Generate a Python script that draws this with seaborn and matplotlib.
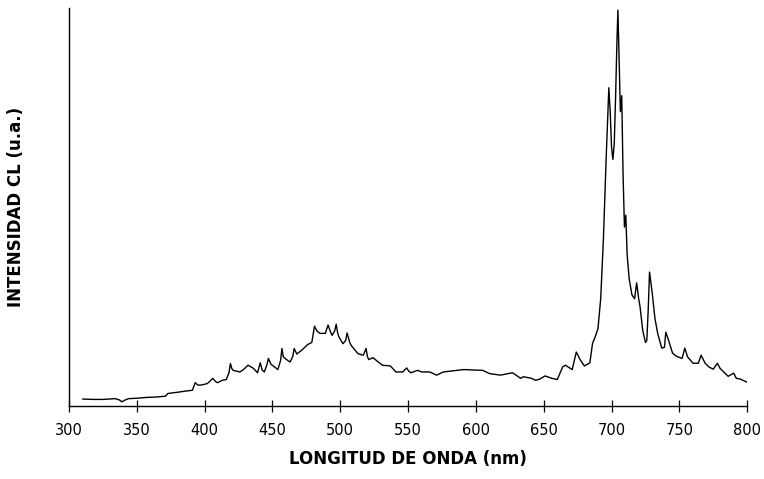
import matplotlib
matplotlib.use("Agg")
import matplotlib.pyplot as plt
import seaborn as sns
import pandas as pd

# Cathodoluminescence spectrum: wavelength (nm) and intensity (arbitrary units)
wavelength_nm = [
    310, 318, 325, 330, 334, 337, 339, 341, 344, 350, 357, 364, 371, 373, 380,
    386, 391, 393, 395, 397, 400, 402, 404, 406, 408, 409.5, 413, 416, 418, 419,
    420, 421, 426, 429, 432, 434, 436, 439, 441, 442.5, 444, 446, 447, 449, 454,
    456, 457, 458, 460, 463, 465, 466, 468, 472, 476, 479, 481, 483, 485, 489,
    491, 493, 494, 496, 497, 498, 499, 502, 504, 505, 507, 508, 513, 517, 519,
    520, 521, 524, 531, 537, 541, 546, 549, 550.5, 552, 557, 560, 566, 571, 576,
    591, 605, 610, 618, 627, 633, 635, 641, 644, 647, 651, 656, 660, 664, 666,
    671, 674, 677, 680, 684, 686, 688, 690, 692, 694, 696, 698, 699, 700, 701,
    702, 703, 704, 704.7, 705.5, 706.5, 707.5, 708.5, 709.5, 710.5, 711.5, 713,
    715, 717, 718.5, 720, 721, 723, 725, 726, 727, 728, 730, 732, 734, 737, 739,
    740, 742, 745, 748, 752, 754, 756, 760, 764, 766, 769, 772, 775, 778, 780,
    783, 786, 790, 792, 795, 800,
]
intensity_au = [
    1.8, 1.7, 1.7, 1.8, 1.9, 1.6, 1.1, 1.5, 1.9, 2.0, 2.2, 2.3, 2.5, 3.2, 3.5,
    3.8, 4.0, 5.9, 5.3, 5.3, 5.5, 5.7, 6.3, 7.0, 6.2, 5.9, 6.5, 6.7, 8.5, 10.7,
    9.5, 9.0, 8.6, 9.3, 10.3, 9.9, 9.5, 8.4, 10.9, 9.0, 8.6, 10.5, 12.0, 10.5, 9.2,
    11.5, 14.5, 12.4, 11.8, 11.1, 12.5, 14.5, 13.1, 14.2, 15.5, 16.0, 20.1, 18.8, 18.3, 18.3,
    20.4, 18.5, 17.8, 19.0, 20.6, 18.5, 17.4, 15.7, 16.5, 18.4, 16.0, 15.3, 13.2, 12.8, 14.5,
    12.5, 11.7, 12.2, 10.3, 10.1, 8.6, 8.6, 9.6, 8.8, 8.4, 9.0, 8.6, 8.6, 7.8, 8.6,
    9.2, 9.0, 8.2, 7.8, 8.4, 7.0, 7.4, 7.0, 6.5, 6.8, 7.6, 7.0, 6.7, 9.9, 10.3,
    9.2, 13.6, 11.6, 10.1, 10.9, 15.8, 17.5, 19.5, 27, 42, 62, 80, 74, 65, 62,
    66, 78, 92, 99.5, 88, 74, 78, 58, 45, 48, 38, 32,
    28, 27, 31, 27, 25, 19, 16, 16.5, 24, 33.7, 28.4, 22, 18.3, 14.6, 14.8,
    18.6, 16.6, 13.3, 12.5, 12, 14.6, 12.4, 10.8, 10.8, 12.8, 10.8, 9.8, 9.3, 10.8, 9.5,
    8.5, 7.5, 8.3, 7.0, 6.8, 6.0,
]
x_ticks = [300, 350, 400, 450, 500, 550, 600, 650, 700, 750, 800]

spectrum = pd.DataFrame({"wavelength": wavelength_nm, "intensity": intensity_au})

sns.set_style("ticks")
plt.rcParams["font.family"] = ["DejaVu Sans"]
plt.rcParams["text.color"] = "black"
plt.rcParams["axes.labelcolor"] = "black"
plt.rcParams["xtick.color"] = "black"

fig = plt.figure(figsize=(7.64, 4.79), dpi=100)
ax = fig.add_axes([0.0903, 0.152, 0.8877, 0.831])

sns.lineplot(data=spectrum, x="wavelength", y="intensity", ax=ax,
             color="black", linewidth=1.0, sort=False)

ax.set_xlim(300, 800)
ax.set_ylim(0, 100)
ax.set_xticks(x_ticks)
ax.set_xticklabels([str(t) for t in x_ticks], fontsize=10.5, color="black")
ax.set_yticks([])
ax.tick_params(axis="x", direction="inout", length=8, width=0.9, pad=8,
               colors="black")
sns.despine(ax=ax, top=True, right=True)
for side in ("left", "bottom"):
    ax.spines[side].set_linewidth(1.0)
    ax.spines[side].set_color("black")

ax.set_xlabel("LONGITUD DE ONDA (nm)", fontsize=12, fontweight="bold",
              labelpad=9, color="black")
ax.set_ylabel("INTENSIDAD CL (u.a.)", fontsize=12, fontweight="bold",
              labelpad=32, color="black")

fig.savefig("out.png", dpi=100, facecolor="white")
